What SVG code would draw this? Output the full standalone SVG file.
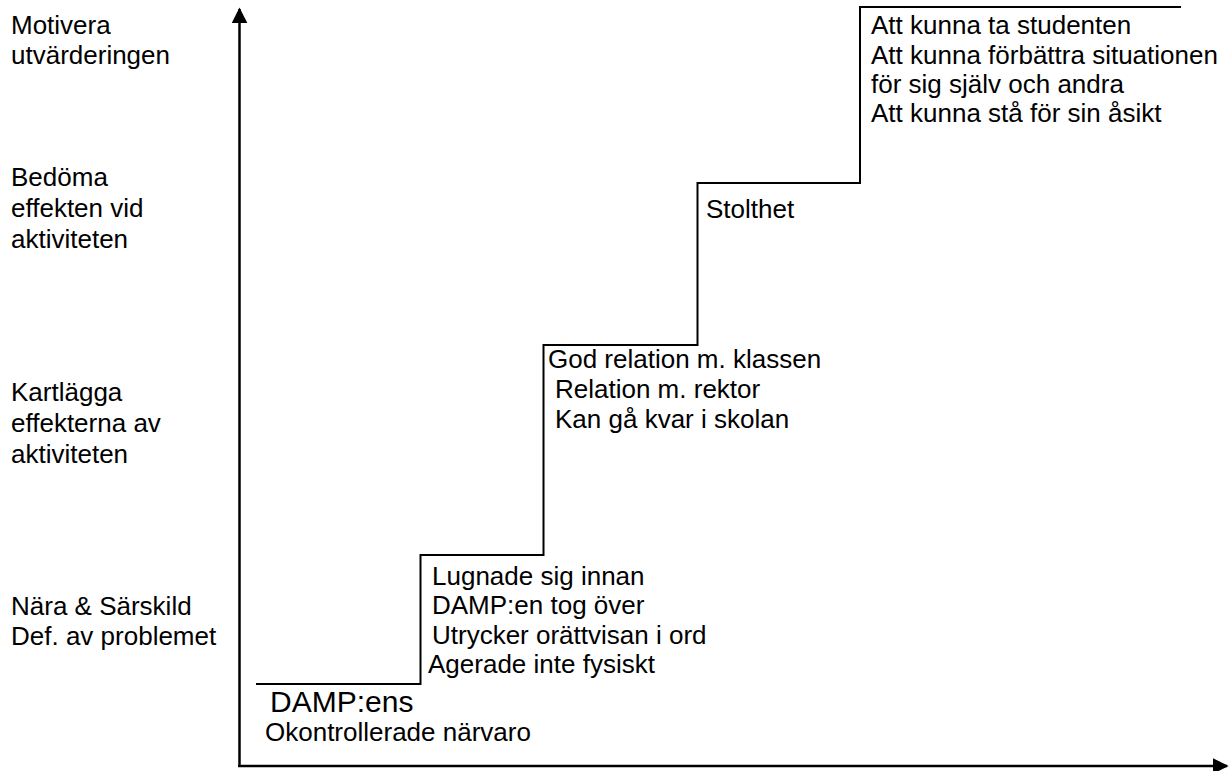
<svg xmlns="http://www.w3.org/2000/svg" width="1232" height="771" viewBox="0 0 1232 771">
<defs>
<style>
text{font-family:"Liberation Sans",Arial,sans-serif;font-size:26px;fill:#000}
.big{font-size:30px}
.ln{fill:none;stroke:#000;stroke-width:2}
.ax{fill:none;stroke:#000;stroke-width:2.5}
</style>
<marker id="ah" viewBox="0 0 10 10" refX="9" refY="5" markerWidth="16" markerHeight="16" markerUnits="userSpaceOnUse" orient="auto">
<path d="M0,0 L10,5 L0,10 Z" fill="#000"/>
</marker>
</defs>
<rect width="1232" height="771" fill="#fff"/>
<g id="axes">
<line class="ax" x1="239.5" y1="766" x2="239.5" y2="9" marker-end="url(#ah)"/>
<line class="ax" x1="238" y1="766" x2="1227" y2="766" marker-end="url(#ah)"/>
</g>
<g id="connectors">
<path class="ln" d="M256,684 H420.5 V555 H543.5 V345 H697.5 V183 H860 V7 H1181"/>
</g>
<g id="ylabels">
<text x="11" y="34">Motivera</text>
<text x="11" y="64">utvärderingen</text>
<text x="11" y="186">Bedöma</text>
<text x="11" y="217">effekten vid</text>
<text x="11" y="248">aktiviteten</text>
<text x="11" y="401">Kartlägga</text>
<text x="11" y="432">effekterna av</text>
<text x="11" y="463">aktiviteten</text>
<text x="11" y="615">Nära &amp; Särskild</text>
<text x="11" y="645">Def. av problemet</text>
</g>
<g id="step1">
<text class="big" x="270" y="712">DAMP:ens</text>
<text x="265" y="741">Okontrollerade närvaro</text>
</g>
<g id="step2">
<text x="432" y="585">Lugnade sig innan</text>
<text x="432" y="614">DAMP:en tog över</text>
<text x="432" y="644">Utrycker orättvisan i ord</text>
<text x="428" y="673">Agerade inte fysiskt</text>
</g>
<g id="step3">
<text x="548" y="368">God relation m. klassen</text>
<text x="555" y="398">Relation m. rektor</text>
<text x="555" y="428">Kan gå kvar i skolan</text>
</g>
<g id="step4">
<text x="706" y="218">Stolthet</text>
</g>
<g id="step5">
<text x="871" y="34">Att kunna ta studenten</text>
<text x="871" y="64">Att kunna förbättra situationen</text>
<text x="871" y="93">för sig själv och andra</text>
<text x="871" y="122">Att kunna stå för sin åsikt</text>
</g>
</svg>
